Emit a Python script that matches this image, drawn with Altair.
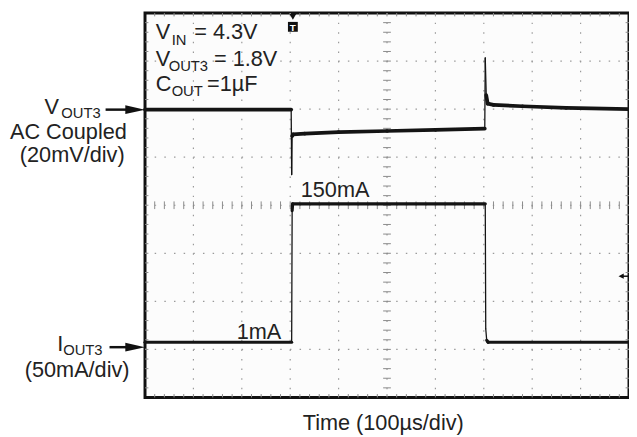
import altair as alt
import numpy as np
import pandas as pd

# ---------------- data ----------------
# time in microseconds (100 us/div, 10 divisions)
v_time = [0, 302, 303, 304, 306, 330, 400, 500, 600, 702, 703, 705, 708, 720, 780, 870, 1000]
# VOUT3, AC coupled, deviation in mV (20 mV/div)
v_mv = [0, 0, -27, -11, -10.3, -10, -9.4, -8.9, -8.4, -7.9, 21.5, 6, 2.5, 2, 1.4, 0.7, 0.2]
# IOUT3 in mA (50 mA/div)
i_time = [0, 303, 304, 305, 703, 704, 706, 709, 1000]
i_ma = [1, 1, 138, 145, 145, 15, 3, 1, 1]

V_SCALE = 20.0   # mV/div
I_SCALE = 50.0   # mA/div
V_REF = 5.99     # screen division of the VOUT3 marker
I_REF = 1.129    # screen division of the IOUT3 marker

W, H = 491, 390
X0, YB = 142, 399  # page pixel of plot left / bottom


def tx(px):
    return (px - X0) / W * 1000.0


def ty(py):
    return (YB - py) / H * 8.0


def segments(times, vals, ref, scale, name, thick):
    rows = []
    ys = [ref + v / scale for v in vals]
    for k in range(len(times) - 1):
        dt = times[k + 1] - times[k]
        dy = abs(ys[k + 1] - ys[k])
        w = 1.3 if (dy > 0.2 and dt <= 3) else thick
        for j in (k, k + 1):
            rows.append({"seg": f"{name}{k}", "t": times[j], "y": ys[j], "w": w, "o": j})
    return rows


trace = pd.DataFrame(segments(v_time, v_mv, V_REF, V_SCALE, "v", 3.8)
                     + segments(i_time, i_ma, I_REF, I_SCALE, "i", 3.2))

xs = alt.Scale(domain=[0, 1000], nice=False, zero=False)
ys = alt.Scale(domain=[0, 8], nice=False, zero=False)
X = lambda f="t": alt.X(f"{f}:Q", scale=xs, axis=None)
Y = lambda f="y": alt.Y(f"{f}:Q", scale=ys, axis=None)

# ---------------- graticule ----------------
vgrid = pd.DataFrame({"t": [100 * k for k in range(1, 10)]})
hgrid = pd.DataFrame({"y": [float(k) for k in range(1, 8)]})

vg = alt.Chart(vgrid).mark_rule(color="#9a9a9a", strokeWidth=1.2, strokeDash=[1.5, 8.25]).encode(
    x=X(), y=alt.value(0), y2=alt.value(H))
hg = alt.Chart(hgrid).mark_rule(color="#9a9a9a", strokeWidth=1.2, strokeDash=[1.5, 8.3]).encode(
    y=Y(), x=alt.value(0), x2=alt.value(W))

minor_t = [20 * k for k in range(1, 50)]
minor_y = [0.2 * k for k in range(1, 40)]
ticks = []
for t in minor_t:
    ticks.append({"t": t, "t2": t, "y": 3.92, "y2": 4.08})
    ticks.append({"t": t, "t2": t, "y": 0.0, "y2": 0.07})
    ticks.append({"t": t, "t2": t, "y": 7.93, "y2": 8.0})
for yv in minor_y:
    ticks.append({"t": 492, "t2": 508, "y": yv, "y2": yv})
    ticks.append({"t": 0, "t2": 7, "y": yv, "y2": yv})
    ticks.append({"t": 993, "t2": 1000, "y": yv, "y2": yv})
tk = alt.Chart(pd.DataFrame(ticks)).mark_rule(color="#8a8a8a", strokeWidth=1).encode(
    x=X(), x2="t2:Q", y=Y(), y2="y2:Q")

# ---------------- traces ----------------
lines = alt.Chart(trace).mark_line(color="#141414", strokeCap="round", strokeJoin="round").encode(
    x=X(), y=Y(), detail="seg:N", order="o:Q",
    strokeWidth=alt.StrokeWidth("w:Q", scale=None))

# ---------------- annotations ----------------
labels = [
    ("V", 153, 35, 22), ("IN", 169, 41, 15), ("= 4.3V", 192, 35, 22),
    ("V", 153, 63, 22), ("OUT3", 166, 68, 15), ("= 1.8V", 212, 63, 22),
    ("C", 153, 88, 22), ("OUT", 169, 93, 15), ("=1µF", 205, 88, 22),
    ("150mA", 300, 196, 22),
    ("1mA", 235, 340, 22),
    ("V", 40, 111, 22), ("OUT3", 57, 115, 15),
    ("AC Coupled", 5, 137, 22),
    ("(20mV/div)", 15, 160, 22),
    ("I", 53, 352, 22), ("OUT3", 59, 356, 15),
    ("(50mA/div)", 20, 378, 22),
    ("Time (100µs/div)", 302, 432, 22),
]
lab = pd.DataFrame([{"text": s, "t": tx(px), "y": ty(py), "fs": fs} for s, px, py, fs in labels])
txt = alt.Chart(lab).mark_text(align="left", baseline="alphabetic", font="Liberation Sans",
                               color="#222222").encode(
    x=X(), y=Y(), text="text:N", size=alt.Size("fs:Q", scale=None))

# arrows pointing at the traces
arrows = pd.DataFrame([
    {"t": tx(102), "t2": tx(128), "y": ty(107)},
    {"t": tx(106), "t2": tx(128), "y": ty(348)},
])
arr_line = alt.Chart(arrows).mark_rule(color="#111111", strokeWidth=2.5).encode(
    x=X(), x2="t2:Q", y=Y())
heads = pd.DataFrame([
    {"t": tx(132), "y": ty(107)},
    {"t": tx(132), "y": ty(348)},
])
arr_head = alt.Chart(heads).mark_point(shape="M -1 -0.45 L 1 0 L -1 0.45 Z", filled=True,
                                       color="#111111", opacity=1, size=400).encode(x=X(), y=Y())

# trigger position marker (top) and trigger level marker (right)
trig = pd.DataFrame([{"t": tx(292), "y": ty(13)}])
trig_tri = alt.Chart(trig).mark_point(shape="triangle-down", filled=True, color="#111111",
                                      opacity=1, size=45).encode(x=X(), y=Y())
trig_box_df = pd.DataFrame([{"t": tx(292), "y": ty(23)}])
trig_box = alt.Chart(trig_box_df).mark_point(shape="square", filled=True, color="#111111",
                                             opacity=1, size=100).encode(x=X(), y=Y())
trig_t = alt.Chart(pd.DataFrame([{"t": tx(292), "y": ty(27), "text": "T"}])).mark_text(
    font="Liberation Sans", fontSize=10, fontWeight="bold", color="white", baseline="alphabetic").encode(
    x=X(), y=Y(), text="text:N")
lvl = pd.DataFrame([{"t": tx(625), "y": ty(276)}])
lvl_tri = alt.Chart(lvl).mark_point(shape="M 1 -1 L -1 0 L 1 1 Z", filled=True, color="#111111",
                                    opacity=1, size=28).encode(x=X(), y=Y())
lvl_line = alt.Chart(pd.DataFrame([{"t": tx(625), "t2": tx(633), "y": ty(276)}])).mark_rule(
    color="#111111", strokeWidth=1.5).encode(x=X(), x2="t2:Q", y=Y())

chart = alt.layer(
    vg, hg, tk, lines, txt, arr_line, arr_head, trig_tri, trig_box, trig_t, lvl_line, lvl_tri
).properties(
    width=W, height=H,
    autosize=alt.AutoSizeParams(type="none"),
    padding={"left": 139, "top": 2, "right": 0, "bottom": 36},
    background="white",
).configure_view(stroke="#111111", strokeWidth=3, fill="#fcfcfc")

chart.save("out.html", embed_options={"renderer": "svg", "actions": False})
